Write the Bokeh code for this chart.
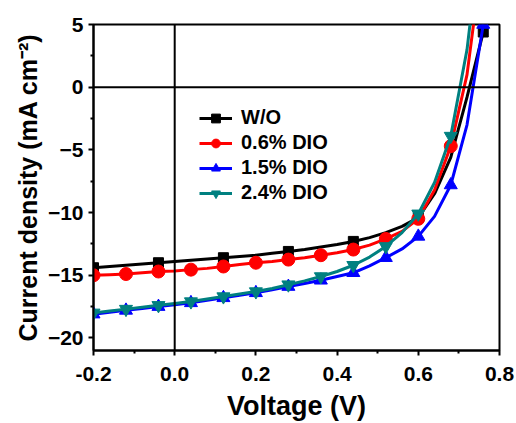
from bokeh.plotting import figure
from bokeh.models import (Span, Legend, LegendItem, FixedTicker, PrintfTickFormatter, Range1d)
from bokeh.embed import file_html
from bokeh.resources import INLINE

# Voltage grid (V)
voltage = [-0.2, -0.16, -0.12, -0.08, -0.04, 0.0, 0.04, 0.08, 0.12, 0.16, 0.2, 0.24,
           0.28, 0.32, 0.36, 0.40, 0.44, 0.48, 0.52, 0.56, 0.6, 0.64, 0.68, 0.72, 0.76]

# Current density (mA cm^-2)
j_wo = [-14.4, -14.3, -14.2, -14.1, -14.0, -13.9, -13.8, -13.7, -13.6, -13.5, -13.4, -13.25,
        -13.1, -12.95, -12.75, -12.55, -12.3, -12.0, -11.6, -11.1, -10.4, -8.5, -5.6, -0.8, 4.4]
j_06 = [-15.0, -14.95, -14.9, -14.8, -14.7, -14.65, -14.55, -14.45, -14.3, -14.15, -14.0, -13.9,
        -13.75, -13.6, -13.4, -13.2, -12.95, -12.6, -12.1, -11.5, -10.5, -8.2, -4.7, 1.0, 11.0]
j_15 = [-18.1, -17.95, -17.8, -17.65, -17.5, -17.35, -17.2, -17.0, -16.8, -16.6, -16.4, -16.15,
        -15.9, -15.65, -15.4, -15.1, -14.8, -14.25, -13.6, -12.9, -11.9, -10.3, -7.8, -3.0, 5.0]
j_24 = [-18.0, -17.85, -17.7, -17.55, -17.4, -17.25, -17.1, -16.9, -16.7, -16.5, -16.3, -16.05,
        -15.75, -15.45, -15.1, -14.7, -14.2, -13.55, -12.7, -11.6, -10.1, -7.6, -3.9, 3.0, 14.0]

labels = ["W/O", "0.6% DIO", "1.5% DIO", "2.4% DIO"]
colors = ["#000000", "#FF0000", "#0000FF", "#008080"]
markers = ["square", "circle", "triangle", "inverted_triangle"]
marker_sizes = [10, 13, 13, 13]
marker_every = [4, 2, 2, 2]   # black marks every 0.16 V, others every 0.08 V

x_ticks = [-0.2, 0.0, 0.2, 0.4, 0.6, 0.8]
y_ticks = [-20, -15, -10, -5, 0, 5]

FONT = "Liberation Sans"

p = figure(width=516, height=423, output_backend="svg", toolbar_location=None,
           x_range=Range1d(-0.2, 0.8), y_range=Range1d(-21, 5),
           min_border_left=93, min_border_right=17, min_border_top=24, min_border_bottom=69)

p.xgrid.visible = False
p.ygrid.visible = False
p.outline_line_color = "black"
p.outline_line_width = 2
p.background_fill_color = "white"
p.border_fill_color = "white"

p.xaxis.ticker = FixedTicker(ticks=x_ticks, minor_ticks=[-0.1, 0.1, 0.3, 0.5, 0.7])
p.yaxis.ticker = FixedTicker(ticks=y_ticks, minor_ticks=[-17.5, -12.5, -7.5, -2.5, 2.5])
p.xaxis.formatter = PrintfTickFormatter(format="%.1f")

for ax in (p.xaxis[0], p.yaxis[0]):
    ax.axis_line_width = 2
    ax.axis_line_color = "black"
    ax.major_tick_line_width = 2
    ax.minor_tick_line_width = 2
    ax.major_tick_in = 0
    ax.major_tick_out = 5
    ax.minor_tick_in = 0
    ax.minor_tick_out = 3
    ax.major_label_text_font = FONT
    ax.major_label_text_font_style = "bold"
    ax.major_label_text_font_size = "21px"
    ax.major_label_text_color = "black"
    ax.axis_label_text_font = FONT
    ax.axis_label_text_font_style = "bold"
    ax.axis_label_text_color = "black"

p.xaxis.axis_label_text_font_size = "27px"
p.yaxis.axis_label_text_font_size = "25px"
p.xaxis.axis_label = "Voltage (V)"
p.yaxis.axis_label = "Current density (mA cm\u207b\u00b2)"
p.xaxis.major_label_standoff = 11
p.yaxis.major_label_standoff = 5
p.xaxis.axis_label_standoff = 7
p.yaxis.axis_label_standoff = 3

p.add_layout(Span(location=0, dimension="width", line_color="black", line_width=2))
p.add_layout(Span(location=0, dimension="height", line_color="black", line_width=2))

series = [j_wo, j_06, j_15, j_24]
items = []
for ys, lab, col, mk, ms, ev in zip(series, labels, colors, markers, marker_sizes, marker_every):
    ln = p.line(voltage, ys, line_color=col, line_width=3)
    sc = p.scatter(voltage[::ev], ys[::ev], marker=mk, size=ms, fill_color=col, line_color=col)
    items.append(LegendItem(label=lab, renderers=[ln, sc]))

legend = Legend(items=items, location=(106, 146), orientation="vertical")
legend.border_line_color = None
legend.background_fill_alpha = 0
legend.padding = 0
legend.margin = 0
legend.spacing = 2
legend.glyph_width = 33
legend.glyph_height = 22
legend.label_height = 22
legend.label_standoff = 9
legend.label_text_font = FONT
legend.label_text_font_style = "bold"
legend.label_text_font_size = "20px"
legend.label_text_color = "black"
p.add_layout(legend, "center")

open("out.html", "w").write(file_html(p, INLINE))
